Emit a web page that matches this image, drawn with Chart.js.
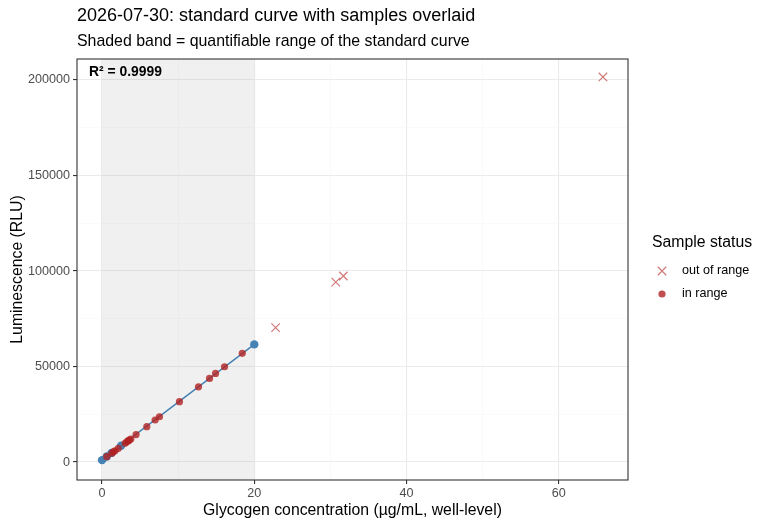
<!DOCTYPE html>
<html lang="en">
<head>
<meta charset="UTF-8">
<title>Standard curve with samples</title>
<script src="https://cdn.jsdelivr.net/npm/chart.js"></script>
<style>
    body { margin: 0; background: #fff; }
    #wrap { width: 768px; height: 528px; }
</style>
</head>
<body>
<div id="wrap"><canvas id="chart" width="768" height="528"></canvas></div>
<script>
// standard curve
const stdConc = [0, 0.625, 1.25, 2.5, 20];
const stdRlu = [1000, 2890, 4790, 8580, 61600];

// samples inside the quantifiable range
const inConc = [0.62, 1.28, 1.49, 1.71, 2.14, 3.03, 3.25, 3.46, 3.59, 3.78,
                4.47, 5.88, 6.97, 7.54, 10.17, 12.67, 14.12, 14.91, 16.09, 18.42];
const inRlu = [2800, 4600, 5400, 5900, 7200, 9800, 10600, 11200, 11500, 12000,
               14400, 18500, 22000, 23700, 31600, 39400, 43800, 46400, 49900, 56900];

// samples outside it
const outConc = [22.8, 30.7, 31.7, 65.8];
const outRlu = [70400, 94200, 97400, 201600];

const quantRange = [0, 20];
const xTicks = [0, 20, 40, 60];
const xMinor = [10, 30, 50];
const yTicks = [0, 50000, 100000, 150000, 200000];
const yMinor = [25000, 75000, 125000, 175000];
const r2Label = 'R\u00b2 = 0.9999';

const FONT = '"Liberation Sans", Arial, sans-serif';
const RED_IN = 'rgba(178,34,34,0.8)';
const RED_OUT = 'rgba(178,34,34,0.6)';
const BLUE = '#4682B4';

function toPoints(xs, ys) {
    return xs.map((x, i) => ({ x: x, y: ys[i] }));
}

function gridOpts(major) {
    return {
        color: c => major.includes(c.tick.value) ? '#EBEBEB' : '#F5F5F5',
        lineWidth: c => major.includes(c.tick.value) ? 1.1 : 0.55,
        tickColor: c => major.includes(c.tick.value) ? '#333333' : 'rgba(0,0,0,0)',
        tickLength: 4,
        tickWidth: 1.1
    };
}

const decor = {
    id: 'decor',
    beforeDatasetsDraw(chart) {
        const { ctx, chartArea: a, scales: { x } } = chart;
        const x0 = x.getPixelForValue(quantRange[0]);
        const x1 = x.getPixelForValue(quantRange[1]);
        ctx.save();
        ctx.fillStyle = 'rgba(128,128,128,0.12)';
        ctx.fillRect(x0, a.top, x1 - x0, a.bottom - a.top);
        ctx.restore();
    },
    afterDatasetsDraw(chart) {
        const { ctx, chartArea: a } = chart;
        ctx.save();
        ctx.strokeStyle = '#333333';
        ctx.lineWidth = 1.1;
        ctx.strokeRect(a.left, a.top, a.right - a.left, a.bottom - a.top);
        ctx.fillStyle = '#000';
        ctx.font = 'bold 13.9px ' + FONT;
        ctx.textBaseline = 'middle';
        ctx.fillText(r2Label, a.left + 12, a.top + 13);
        ctx.restore();
    },
    afterDraw(chart) {
        const { ctx, chartArea: a } = chart;
        ctx.save();
        ctx.fillStyle = '#000';
        ctx.textBaseline = 'middle';
        ctx.font = '18px ' + FONT;
        ctx.fillText('2026-07-30: standard curve with samples overlaid', a.left, 16);
        ctx.font = '15.9px ' + FONT;
        ctx.fillText('Shaded band = quantifiable range of the standard curve', a.left, 42);

        // legend
        ctx.font = '15.8px ' + FONT;
        ctx.fillText('Sample status', 652, 243);
        ctx.font = '12.6px ' + FONT;
        ctx.fillText('out of range', 682, 271);
        ctx.fillText('in range', 682, 294);
        const d = 6 * Math.SQRT1_2;
        ctx.strokeStyle = RED_OUT;
        ctx.lineWidth = 1.2;
        ctx.beginPath();
        ctx.moveTo(662 - d, 271 - d); ctx.lineTo(662 + d, 271 + d);
        ctx.moveTo(662 - d, 271 + d); ctx.lineTo(662 + d, 271 - d);
        ctx.stroke();
        ctx.fillStyle = RED_IN;
        ctx.beginPath();
        ctx.arc(662, 294, 3.6, 0, Math.PI * 2);
        ctx.fill();
        ctx.restore();
    }
};

const ctx = document.getElementById('chart').getContext('2d');
const chart = new Chart(ctx, {
    type: 'scatter',
    data: {
        datasets: [
            {
                label: 'in range',
                data: toPoints(inConc, inRlu),
                backgroundColor: RED_IN,
                borderWidth: 0,
                pointRadius: 3.6,
                order: 1
            },
            {
                label: 'out of range',
                data: toPoints(outConc, outRlu),
                pointStyle: 'crossRot',
                pointRadius: 6,
                borderColor: RED_OUT,
                borderWidth: 1.2,
                order: 2
            },
            {
                label: 'standard curve',
                data: toPoints(stdConc, stdRlu),
                showLine: true,
                borderColor: BLUE,
                borderWidth: 1.5,
                backgroundColor: BLUE,
                pointRadius: 4.2,
                pointBorderWidth: 0,
                order: 3
            }
        ]
    },
    options: {
        responsive: false,
        animation: false,
        layout: { padding: { top: 59, right: 140, left: 0, bottom: 0 } },
        plugins: { legend: { display: false }, tooltip: { enabled: false } },
        scales: {
            x: {
                type: 'linear',
                min: -3.29,
                max: 69.09,
                afterBuildTicks: s => { s.ticks = [...xTicks, ...xMinor].sort((p, q) => p - q).map(v => ({ value: v })); },
                afterFit: s => { s.height = 48; },
                ticks: {
                    autoSkip: false, maxRotation: 0, padding: 2,
                    color: '#4D4D4D', font: { family: FONT, size: 12.6 },
                    callback: v => xTicks.includes(v) ? String(v) : ''
                },
                grid: gridOpts(xTicks),
                border: { display: false },
                title: {
                    display: true, text: 'Glycogen concentration (\u00b5g/mL, well-level)',
                    color: '#000', font: { family: FONT, size: 15.8 },
                    padding: { top: 0, bottom: 7.5 }
                }
            },
            y: {
                type: 'linear',
                min: -9400,
                max: 211000,
                afterBuildTicks: s => { s.ticks = [...yTicks, ...yMinor].sort((p, q) => p - q).map(v => ({ value: v })); },
                afterFit: s => { s.width = 77; },
                ticks: {
                    autoSkip: false, padding: 3,
                    color: '#4D4D4D', font: { family: FONT, size: 12.6 },
                    callback: v => yTicks.includes(v) ? String(v) : ''
                },
                grid: gridOpts(yTicks),
                border: { display: false },
                title: {
                    display: true, text: 'Luminescence (RLU)',
                    color: '#000', font: { family: FONT, size: 15.8 },
                    padding: { top: 8.5, bottom: 0 }
                }
            }
        }
    },
    plugins: [decor]
});
</script>
</body>
</html>
